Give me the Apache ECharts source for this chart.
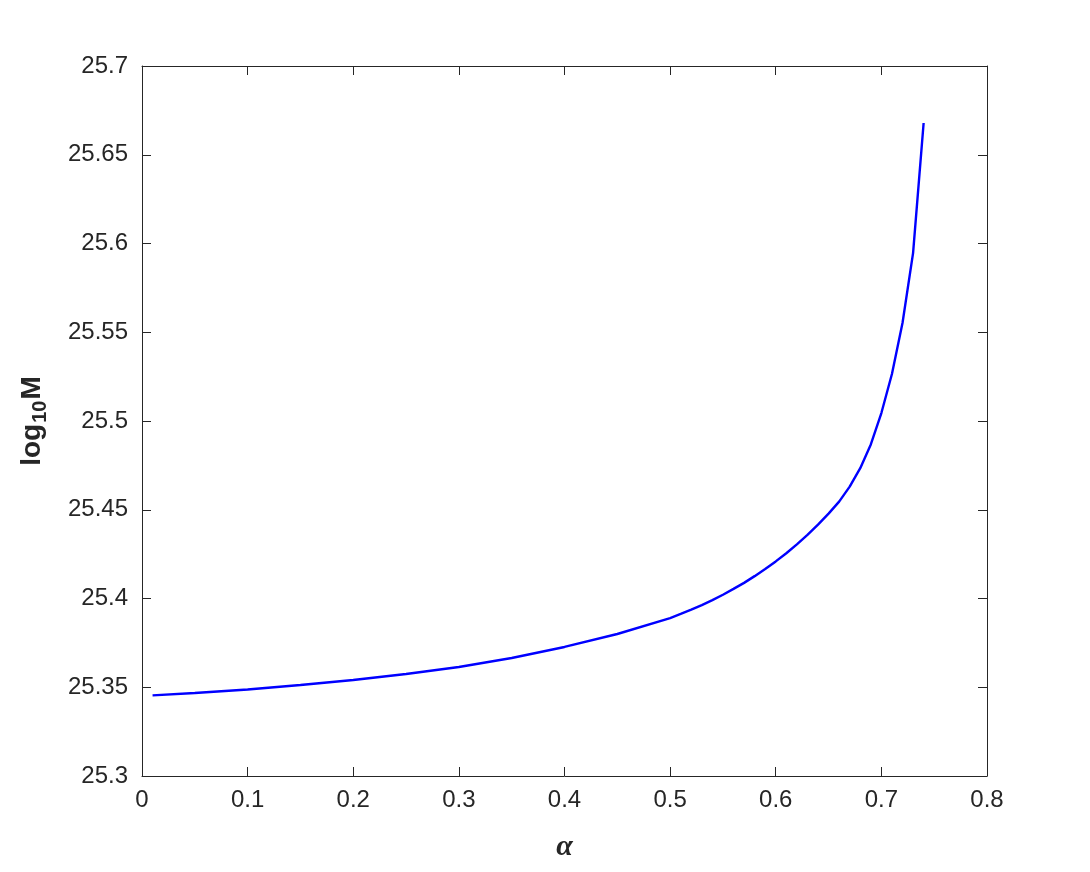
<!DOCTYPE html>
<html>
<head>
<meta charset="utf-8">
<title>log10M vs alpha</title>
<script src="https://cdn.jsdelivr.net/npm/echarts@6/dist/echarts.min.js"></script>
<style>
  html, body { margin: 0; padding: 0; background: #fff; }
  #chart { width: 1090px; height: 872px; }
</style>
</head>
<body>
<div id="chart"></div>
<script>
// values
const alphaValues = [
  0.01, 0.05, 0.10, 0.15, 0.20, 0.25, 0.30, 0.35, 0.40, 0.45,
  0.50, 0.51, 0.52, 0.53, 0.54, 0.55, 0.56, 0.57, 0.58, 0.59,
  0.60, 0.61, 0.62, 0.63, 0.64, 0.65, 0.66, 0.67, 0.68, 0.69,
  0.70, 0.71, 0.72, 0.73, 0.74
]
const logMValues = [
  25.3454, 25.3468, 25.3487, 25.3513, 25.3541, 25.3575, 25.3614, 25.3665, 25.3727, 25.3800,
  25.3890, 25.3913, 25.3937, 25.3963, 25.3991, 25.4021, 25.4054, 25.4088, 25.4126, 25.4166,
  25.4209, 25.4255, 25.4305, 25.4358, 25.4416, 25.4478, 25.4546, 25.4630, 25.4734, 25.4868,
  25.5045, 25.5265, 25.5552, 25.5946, 25.6679
]
const xTicks = { min: 0, max: 0.8, interval: 0.1 }
const yTicks = { min: 25.3, max: 25.7, interval: 0.05 }

const axisColor = '#262626'
const tickFont = 'Liberation Sans, Arial, Helvetica, sans-serif'

const chart = echarts.init(document.getElementById('chart'))

const boxAxis = (extra) => Object.assign({
  type: 'value',
  axisLine: { show: true, onZero: false, lineStyle: { color: axisColor, width: 1 } },
  axisTick: { show: true, inside: true, length: 9, lineStyle: { color: axisColor, width: 1 } },
  splitLine: { show: false }
}, extra)

chart.setOption({
  animation: false,
  backgroundColor: '#ffffff',
  grid: {
    left: 142,
    right: 103,
    top: 66,
    bottom: 96,
    containLabel: false
  },
  xAxis: [
    boxAxis({
      min: xTicks.min,
      max: xTicks.max,
      interval: xTicks.interval,
      position: 'bottom',
      axisLabel: {
        color: axisColor,
        fontFamily: tickFont,
        fontSize: 24,
        margin: 12,
        formatter: v => String(+v.toFixed(2))
      },
      name: 'α',
      nameLocation: 'middle',
      nameGap: 56,
      nameTextStyle: {
        color: axisColor,
        fontFamily: 'Liberation Serif, Times New Roman, serif',
        fontStyle: 'italic',
        fontWeight: 'bold',
        fontSize: 30
      }
    }),
    boxAxis({
      min: xTicks.min,
      max: xTicks.max,
      interval: xTicks.interval,
      position: 'top',
      axisLabel: { show: false }
    })
  ],
  yAxis: [
    boxAxis({
      min: yTicks.min,
      max: yTicks.max,
      interval: yTicks.interval,
      position: 'left',
      axisLabel: {
        color: axisColor,
        fontFamily: tickFont,
        fontSize: 24,
        margin: 14,
        formatter: v => String(+v.toFixed(2))
      },
      name: '{a|log}{b|10}{a|M}',
      nameLocation: 'middle',
      nameRotate: 90,
      nameGap: 95,
      nameTextStyle: {
        color: axisColor,
        rich: {
          a: {
            fontFamily: tickFont,
            fontWeight: 'bold',
            fontSize: 28,
            color: axisColor,
            lineHeight: 30
          },
          b: {
            fontFamily: tickFont,
            fontWeight: 'bold',
            fontSize: 20,
            color: axisColor,
            lineHeight: 30,
            padding: [16, 1, 0, 1]
          }
        }
      }
    }),
    boxAxis({
      min: yTicks.min,
      max: yTicks.max,
      interval: yTicks.interval,
      position: 'right',
      axisLabel: { show: false }
    })
  ],
  series: [
    {
      type: 'line',
      xAxisIndex: 0,
      yAxisIndex: 0,
      data: alphaValues.map((a, i) => [a, logMValues[i]]),
      showSymbol: false,
      smooth: false,
      lineStyle: { color: '#0000ff', width: 2.4 },
      itemStyle: { color: '#0000ff' }
    }
  ]
})
</script>
</body>
</html>
